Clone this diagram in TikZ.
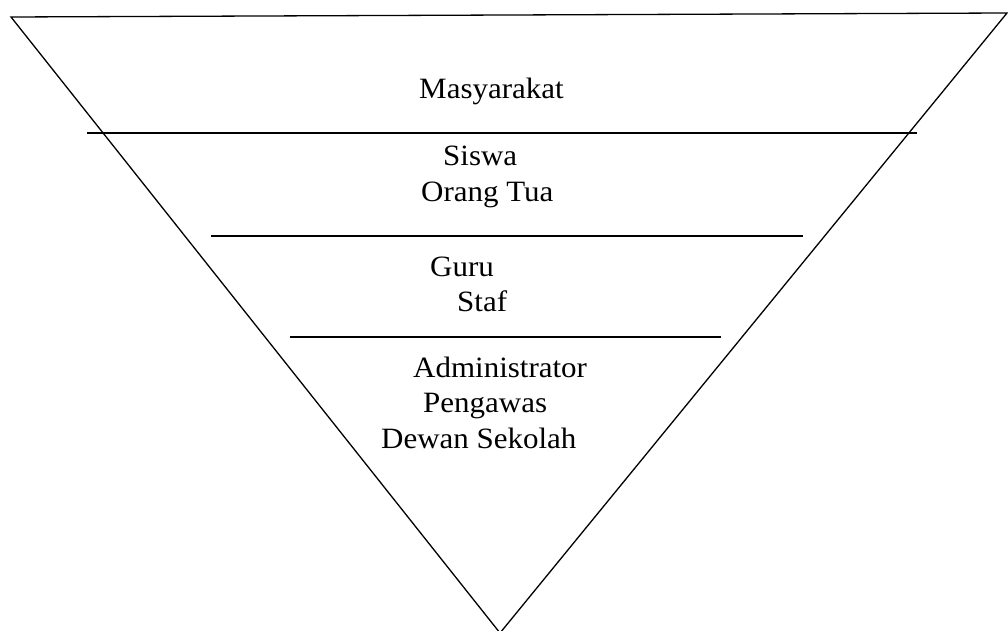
\documentclass[tikz,border=0pt]{standalone}
\usepackage{fontspec}
\setmainfont{Liberation Serif}
\begin{document}
\begin{tikzpicture}[x=1pt,y=-1pt,
  edge/.style={line width=1.3pt, line cap=butt},
  lbl/.style={anchor=base west, inner sep=0pt, xscale=1.05, transform shape, font=\fontsize{29.5}{36}\selectfont}]
\useasboundingbox (0,0) rectangle (1008,631);
\clip (0,0) rectangle (1008,631);
\coordinate (tl) at (11,17);
\coordinate (tr) at (1007,13);
\coordinate (ap) at (500,633);
\draw[edge] (tl) -- (tr) -- (ap) -- cycle;
\coordinate (a1) at (87,133); \coordinate (b1) at (917,133);
\coordinate (a2) at (211,236); \coordinate (b2) at (803,236);
\coordinate (a3) at (290,337); \coordinate (b3) at (721,337);
\draw[edge] (a1) -- (b1);
\draw[edge] (a2) -- (b2);
\draw[edge] (a3) -- (b3);
\node[lbl] (m) at (419,98.5) {Masyarakat};
\node[lbl] (s) at (443,165) {Siswa};
\node[lbl] (o) at (421,201) {Orang Tua};
\node[lbl] (g) at (430,276) {Guru};
\node[lbl] (st) at (457,311) {Staf};
\node[lbl] (ad) at (413,377) {Administrator};
\node[lbl] (p) at (423,412) {Pengawas};
\node[lbl] (d) at (381,448) {Dewan Sekolah};
\end{tikzpicture}
\end{document}
